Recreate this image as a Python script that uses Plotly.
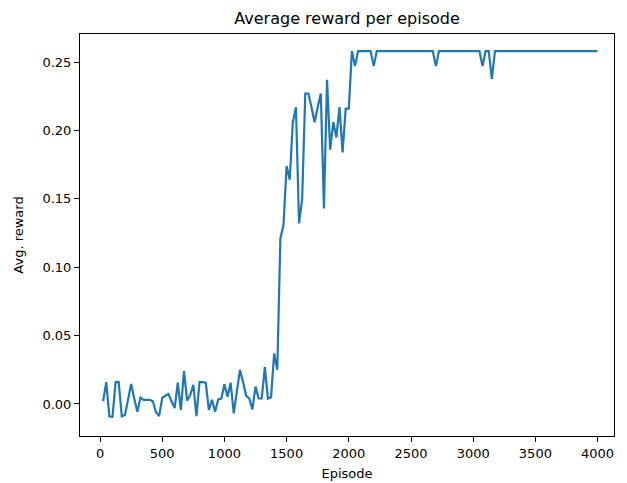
import plotly.graph_objects as go

episodes = list(range(25, 4001, 25))

avg_reward = [
    0.002, 0.016, -0.009, -0.0095, 0.016, 0.016, -0.009, -0.008, 0.003, 0.0146,
    0.004, -0.0056, 0.0046, 0.003, 0.003, 0.003, 0.002, -0.006, -0.0088, 0.0044,
    0.006, 0.0073, 0.002, -0.003, 0.0156, -0.0044, 0.024, 0.0024, 0.0066, 0.014,
    -0.0088, 0.016, 0.016, 0.0156, -0.0044, 0.003, -0.0056, 0.0034, 0.004, 0.0144,
    0.0053, 0.0156, -0.0068, 0.01, 0.025, 0.016, 0.006, 0.004, -0.004, 0.0127,
    0.004, 0.004, 0.027, 0.004, 0.005, 0.037, 0.025, 0.121, 0.131, 0.174,
    0.164, 0.206, 0.217, 0.132, 0.150, 0.227, 0.227, 0.217, 0.206, 0.217,
    0.227, 0.143, 0.237, 0.186, 0.206, 0.195, 0.217, 0.184, 0.216, 0.216,
    0.258, 0.247, 0.258, 0.258, 0.258, 0.258, 0.258, 0.247, 0.258, 0.258,
    0.258, 0.258, 0.258, 0.258, 0.258, 0.258, 0.258, 0.258, 0.258, 0.258,
    0.258, 0.258, 0.258, 0.258, 0.258, 0.258, 0.258, 0.247, 0.258, 0.258,
    0.258, 0.258, 0.258, 0.258, 0.258, 0.258, 0.258, 0.258, 0.258, 0.258,
    0.258, 0.258, 0.247, 0.258, 0.258, 0.2376, 0.258, 0.258, 0.258, 0.258,
    0.258, 0.258, 0.258, 0.258, 0.258, 0.258, 0.258, 0.258, 0.258, 0.258,
    0.258, 0.258, 0.258, 0.258, 0.258, 0.258, 0.258, 0.258, 0.258, 0.258,
    0.258, 0.258, 0.258, 0.258, 0.258, 0.258, 0.258, 0.258, 0.258, 0.258,
]

title_text = "Average reward per episode"
x_label = "Episode"
y_label = "Avg. reward"

fig = go.Figure()
fig.add_trace(go.Scatter(
    x=episodes, y=avg_reward, mode="lines",
    line=dict(color="#1f77b4", width=2.2),
    showlegend=False,
))

axis_common = dict(
    showline=True, linecolor="#000000", linewidth=1, mirror=True,
    ticks="outside", ticklen=5, tickwidth=1, tickcolor="#000000",
    showgrid=False, zeroline=False, automargin=False,
    tickfont=dict(family="DejaVu Sans", size=13, color="#000000"),
)

fig.update_layout(
    width=627, height=483,
    margin=dict(l=80, r=13, t=34, b=47),
    paper_bgcolor="white", plot_bgcolor="white",
    title=dict(text=title_text, x=0.5535, xanchor="center", y=0.961, yanchor="middle",
               font=dict(family="DejaVu Sans", size=16, color="#000000")),
    xaxis=dict(range=[-161, 4132], tickmode="linear", tick0=0, dtick=500,
               title=dict(text=x_label, standoff=9,
                          font=dict(family="DejaVu Sans", size=13, color="#000000")),
               **axis_common),
    yaxis=dict(range=[-0.0234, 0.2705], tickmode="linear", tick0=0, dtick=0.05,
               tickformat=".2f",
               title=dict(text=y_label, standoff=15,
                          font=dict(family="DejaVu Sans", size=13, color="#000000")),
               **axis_common),
)

fig.write_html(
    "out.html",
    config={"displayModeBar": False},
    post_script="document.body.style.margin='0';document.body.style.padding='0';document.body.style.overflow='hidden';",
)
